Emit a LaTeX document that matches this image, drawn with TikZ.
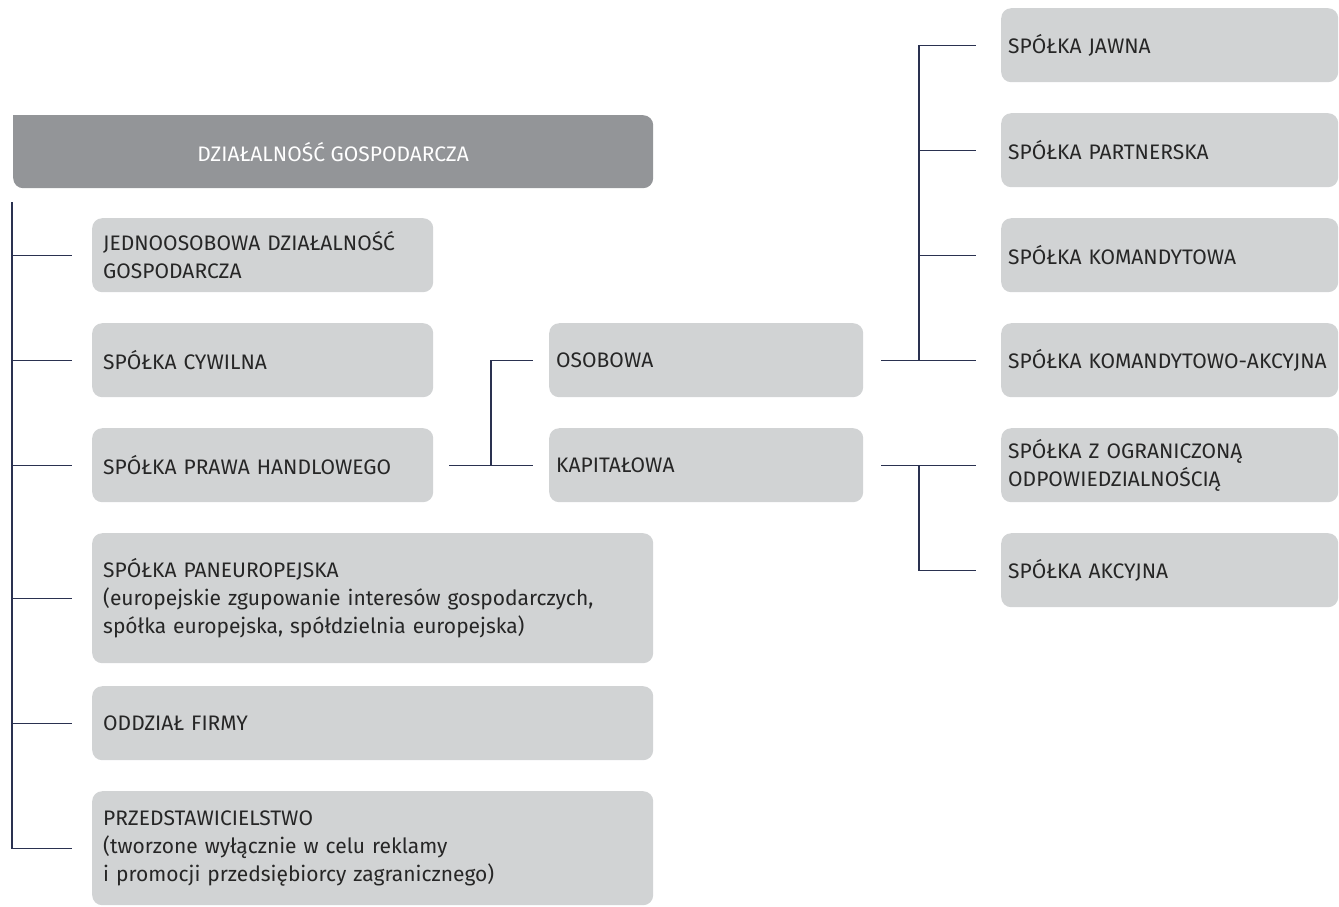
\documentclass[tikz,border=0pt]{standalone}
\usepackage{fontspec}
\setmainfont{Fira Sans}
\usepackage{xcolor}
\usepackage{tikz}

\definecolor{boxgray}{HTML}{D1D3D4}
\definecolor{headgray}{HTML}{939598}
\definecolor{linenavy}{HTML}{2A3150}
\definecolor{txtgray}{HTML}{262626}

\tikzset{
  box/.style={fill=boxgray, rounded corners=10pt, anchor=north west,
    inner xsep=11pt, inner ysep=0pt, align=left, text=txtgray,
    minimum height=74pt, text width=#1},
  subbox/.style={box=#1, inner xsep=7pt},
  link/.style={draw=linenavy, line width=1.3pt},
}

\begin{document}
\begin{tikzpicture}[x=1pt, y=-1pt, font=\fontsize{21}{28}\selectfont]
      \useasboundingbox (0,0) rectangle (1339,906);

      \node[fill=headgray, rounded corners=10pt, anchor=north west, minimum width=640pt,
            minimum height=73pt, inner sep=0pt, text=white] (head) at (13,115) {DZIAŁALNOŚĆ GOSPODARCZA};
      \fill[headgray] (head.north west) rectangle ([xshift=12pt,yshift=-12pt]head.north west);

      % lewa kolumna
      \node[box=319pt] (jdg) at (92,218) {JEDNOOSOBOWA DZIAŁALNOŚĆ\\GOSPODARCZA};
      \node[box=319pt] (cyw) at (92,323) {SPÓŁKA CYWILNA};
      \node[box=319pt] (sph) at (92,428) {SPÓŁKA PRAWA HANDLOWEGO};
      \node[box=539pt, minimum height=130pt] (pan) at (92,533)
            {SPÓŁKA PANEUROPEJSKA\\(europejskie zgupowanie interesów gospodarczych,\\spółka europejska, spółdzielnia europejska)};
      \node[box=539pt] (odd) at (92,686) {ODDZIAŁ FIRMY};
      \node[box=539pt, minimum height=114pt] (prz) at (92,791)
            {PRZEDSTAWICIELSTWO\\(tworzone wyłącznie w celu reklamy\\i promocji przedsiębiorcy zagranicznego)};

      % srodek
      \node[subbox=300pt] (osob) at (549,323) {OSOBOWA};
      \node[subbox=300pt] (kap)  at (549,428) {KAPITAŁOWA};

      % prawa kolumna
      \node[subbox=323pt] (jaw) at (1001,8)   {SPÓŁKA JAWNA};
      \node[subbox=323pt] (par) at (1001,113) {SPÓŁKA PARTNERSKA};
      \node[subbox=323pt] (kom) at (1001,218) {SPÓŁKA KOMANDYTOWA};
      \node[subbox=323pt] (kak) at (1001,323) {SPÓŁKA KOMANDYTOWO-AKCYJNA};
      \node[subbox=323pt] (zoo) at (1001,428) {SPÓŁKA Z OGRANICZONĄ\\ODPOWIEDZIALNOŚCIĄ};
      \node[subbox=323pt] (akc) at (1001,533) {SPÓŁKA AKCYJNA};

      % linie
      \coordinate (trunk) at (12,202);
      \draw[link] (trunk) |- ([xshift=-20pt]prz.west);
      \foreach \n in {jdg,cyw,sph,pan,odd}
        \draw[link] (trunk |- \n.west) -- ([xshift=-20pt]\n.west);

      \coordinate (forkm) at (491,0);
      \draw[link] ([xshift=16pt]sph.east) -- ([xshift=-16pt]kap.west);
      \draw[link] (forkm |- kap.west) |- ([xshift=-16pt]osob.west);

      \coordinate (forkr) at (919,0);
      \draw[link] ([xshift=18pt]osob.east) -- ([xshift=-25pt]kak.west);
      \draw[link] (forkr |- kak.west) |- ([xshift=-25pt]jaw.west);
      \foreach \n in {par,kom}
        \draw[link] (forkr |- \n.west) -- ([xshift=-25pt]\n.west);

      \draw[link] ([xshift=18pt]kap.east) -- ([xshift=-25pt]zoo.west);
      \draw[link] (forkr |- zoo.west) |- ([xshift=-25pt]akc.west);

    \end{tikzpicture}
\end{document}
